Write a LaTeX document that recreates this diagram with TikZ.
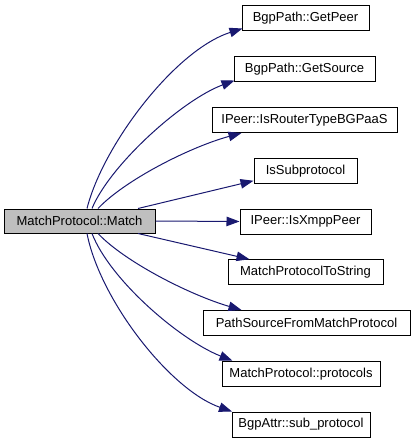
\documentclass[tikz,border=0pt]{standalone}
\usepackage{fontspec}
\setmainfont{Liberation Sans}
\usetikzlibrary{arrows.meta,calc}
\definecolor{edgeblue}{RGB}{25,25,112}
\definecolor{mainfill}{RGB}{191,191,191}
\begin{document}
\begin{tikzpicture}[x=1pt,y=-1pt,
  box/.style={draw=black, line width=1pt, minimum height=25pt, inner sep=0pt,
    font=\fontsize{13}{15}\selectfont, text=black},
  edge/.style={draw=edgeblue, line width=1pt, -{Triangle[length=13pt,width=9.5pt]}}]
\useasboundingbox (0,0) rectangle (413,443);
\node[box, fill=mainfill, minimum width=151pt, minimum height=24pt] (main) at (79.5,221) {MatchProtocol::Match};
\node[box, minimum width=127pt] (t1) at (305.5,18.5) {BgpPath::GetPeer};
\node[box, minimum width=141pt] (t2) at (304.5,69.25) {BgpPath::GetSource};
\node[box, minimum width=185pt] (t3) at (304.5,120) {IPeer::IsRouterTypeBGPaaS};
\node[box, minimum width=103pt] (t4) at (305.5,170.75) {IsSubprotocol};
\node[box, minimum width=131pt] (t5) at (305.5,221.5) {IPeer::IsXmppPeer};
\node[box, minimum width=155pt] (t6) at (305.5,272.25) {MatchProtocolToString};
\node[box, minimum width=207pt] (t7) at (306.5,323) {PathSourceFromMatchProtocol};
\node[box, minimum width=158pt] (t8) at (301,373.75) {MatchProtocol::protocols};
\node[box, minimum width=138pt] (t9) at (301,424.5) {BgpAttr::sub\_protocol};
\draw[edge] ($(main.north)+(7.5,0)$) .. controls (103,145) and (175,50) .. ($(t1.south west)+(1,-3)$);
\draw[edge] ($(main.north)+(12.5,0)$) .. controls (110,165) and (182,100) .. ($(t2.south west)+(1,-1.75)$);
\draw[edge] ($(main.north)+(18.5,0)$) .. controls (125,180) and (190,147) .. ($(t3.south west)+(30,0)$);
\draw[edge] ($(main.north)+(58.5,0)$) -- ($(t4.south west)+(0,-3)$);
\draw[edge] (main.east) -- (t5.west);
\draw[edge] ($(main.south)+(58.5,0)$) -- ($(t6.north west)+(22,0)$);
\draw[edge] ($(main.south)+(18.5,0)$) .. controls (125,262) and (190,295) .. ($(t7.north west)+(39,0)$);
\draw[edge] ($(main.south)+(12.5,0)$) .. controls (110,280) and (180,340) .. ($(t8.north west)+(11,0)$);
\draw[edge] ($(main.south)+(7.5,0)$) .. controls (100,300) and (170,390) .. ($(t9.north west)+(0.5,0)$);
\end{tikzpicture}
\end{document}
